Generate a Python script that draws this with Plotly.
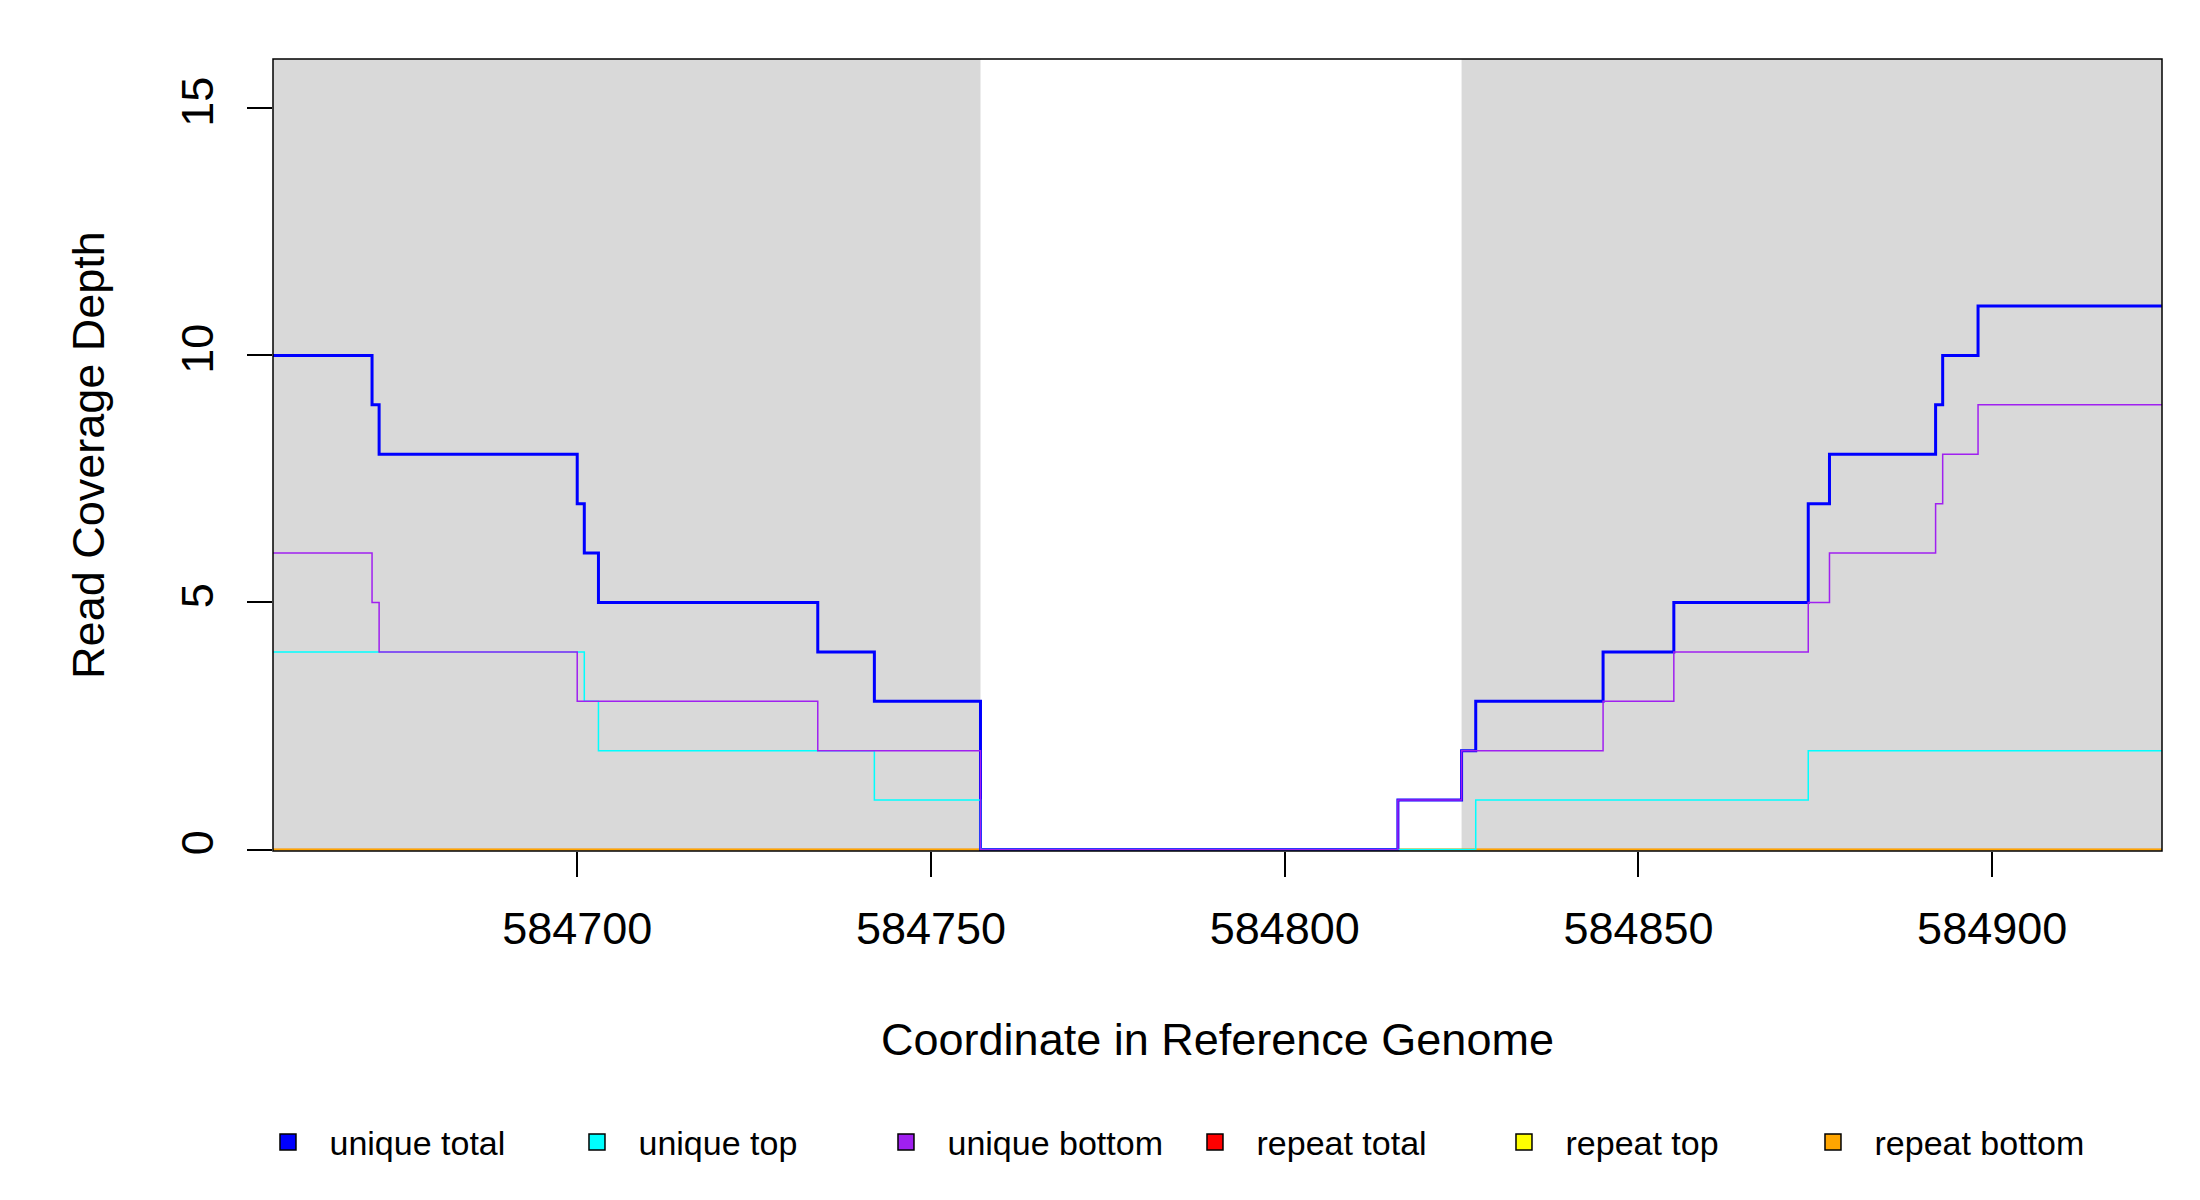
import plotly.graph_objects as go

# Segment start coordinates (last value = right end of data)
positions = [584657, 584671, 584672, 584700, 584701, 584703, 584734, 584742, 584757,
             584816, 584825, 584827, 584845, 584855, 584874, 584877, 584892, 584893,
             584898, 584924]

unique_total = [10, 9, 8, 7, 6, 5, 4, 3, 0, 1, 2, 3, 4, 5, 7, 8, 9, 10, 11]
unique_top = [4, 4, 4, 4, 3, 2, 2, 1, 0, 0, 0, 1, 1, 1, 2, 2, 2, 2, 2]
unique_bottom = [6, 5, 4, 3, 3, 3, 2, 2, 0, 1, 2, 2, 3, 4, 5, 6, 7, 8, 9]
repeat_total = [0] * 19
repeat_top = [0] * 19
repeat_bottom = [0] * 19

# shaded (gray) regions
shade_start = [584657, 584825]
shade_end = [584757, 584924]

x_ticks = [584700, 584750, 584800, 584850, 584900]
y_ticks = [0, 5, 10, 15]

series_names = ["unique total", "unique top", "unique bottom",
                "repeat total", "repeat top", "repeat bottom"]
series_colors = ["#0000FF", "#00FFFF", "#A020F0", "#FF0000", "#FFFF00", "#FFA500"]

FONT = "Liberation Sans, Arial, sans-serif"

fig = go.Figure()

for s0, s1 in zip(shade_start, shade_end):
    fig.add_shape(type="rect", xref="x", yref="y", x0=s0, x1=s1, y0=0, y1=16,
                  fillcolor="#D9D9D9", line=dict(width=0), layer="below")


def stepped(vals):
    return list(vals) + [vals[-1]]


# draw order: repeat series first, unique series on top
draw = [
    (repeat_total, "#FF0000", 1.5),
    (repeat_top, "#FFFF00", 1.5),
    (repeat_bottom, "#FFA500", 1.5),
    (unique_total, "#0000FF", 3),
    (unique_top, "#00FFFF", 1.5),
    (unique_bottom, "#A020F0", 1.5),
]
for vals, col, w in draw:
    fig.add_trace(go.Scatter(x=positions, y=stepped(vals), mode="lines",
                             line=dict(color=col, width=w, shape="hv"),
                             showlegend=False, hoverinfo="skip"))

for name, col in zip(series_names, series_colors):
    fig.add_trace(go.Scatter(x=[None], y=[None], mode="markers", name=name,
                             marker=dict(symbol="square", size=22, color=col,
                                         line=dict(color="black", width=1.5))))

fig.add_shape(type="rect", xref="paper", yref="paper", x0=0, x1=1, y0=0, y1=1,
              line=dict(color="black", width=1.5), layer="above")

fig.update_layout(
    width=2184, height=1184,
    plot_bgcolor="white", paper_bgcolor="white",
    margin=dict(l=265, r=30, t=51, b=341),
    font=dict(family=FONT, size=45, color="black"),
    xaxis=dict(range=[584657, 584924], tickvals=x_ticks,
               ticktext=[str(v) for v in x_ticks],
               ticks="outside", ticklen=25, tickwidth=1.5, tickcolor="black",
               showgrid=False, zeroline=False, showline=False,
               tickfont=dict(size=45), ticklabelstandoff=13,
               title=dict(text="Coordinate in Reference Genome", font=dict(size=45),
                          standoff=70)),
    yaxis=dict(range=[-0.03, 16], tickvals=y_ticks,
               ticktext=[str(v) for v in y_ticks],
               ticks="outside", ticklen=25, tickwidth=1.5, tickcolor="black",
               tickangle=-90,
               showgrid=False, zeroline=False, showline=False,
               tickfont=dict(size=45), ticklabelstandoff=16,
               title=dict(text="Read Coverage Depth", font=dict(size=45),
                          standoff=53)),
    legend=dict(orientation="h", x=0.4767, xanchor="center", y=-0.368, yanchor="middle",
                font=dict(size=34), entrywidth=221, entrywidthmode="pixels",
                itemwidth=73, bgcolor="rgba(0,0,0,0)"),
)

fig.write_html("out.html")
